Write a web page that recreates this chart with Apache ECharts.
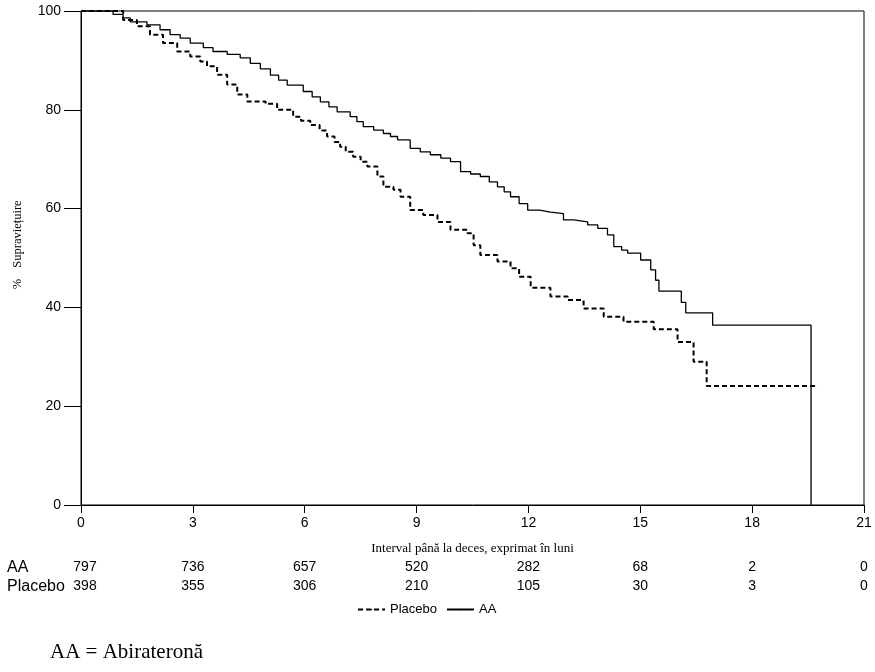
<!DOCTYPE html>
<html>
<head>
<meta charset="utf-8">
<script src="https://cdn.jsdelivr.net/npm/echarts@6/dist/echarts.min.js"></script>
<style>
  html, body { margin: 0; padding: 0; background: #fff; }
  #main { width: 875px; height: 672px; }
</style>
</head>
<body>
<div id="main"></div>
<script>
// luni / supraviețuire (%)
var aaTime = [0, 0.6, 0.86, 1.13, 1.32, 1.77, 2.12, 2.39, 2.66, 2.93, 3.28, 3.54, 3.92, 4.27, 4.54, 4.81, 5.08, 5.3, 5.53, 5.96, 6.2, 6.42, 6.65, 6.87, 7.22, 7.4, 7.57, 7.85, 8.11, 8.3, 8.49, 8.83, 9.1, 9.37, 9.65, 9.91, 10.18, 10.45, 10.71, 10.95, 11.17, 11.35, 11.52, 11.75, 11.98, 12.3, 12.59, 12.94, 13.21, 13.59, 13.86, 14.12, 14.29, 14.5, 14.66, 15.01, 15.28, 15.41, 15.5, 16.1, 16.22, 16.94, 19.58]
var aaSurv = [100, 100, 99.3, 98.6, 97.8, 97.2, 96.2, 95.2, 94.5, 93.5, 92.6, 91.8, 91.2, 90.5, 89.4, 88.3, 87.0, 86.0, 85.0, 83.7, 82.6, 81.6, 80.6, 79.6, 78.6, 77.6, 76.6, 75.9, 75.2, 74.6, 73.9, 72.2, 71.5, 70.9, 70.2, 69.5, 67.5, 67.0, 66.5, 65.4, 64.4, 63.4, 62.4, 61.0, 59.7, 59.3, 59.0, 57.7, 57.3, 56.7, 56.0, 54.7, 52.3, 51.6, 51.0, 49.6, 47.6, 45.5, 43.3, 41.0, 38.9, 36.4, 0]

var plTime = [0, 0.78, 1.13, 1.5, 1.85, 2.2, 2.58, 2.93, 3.2, 3.38, 3.65, 3.92, 4.19, 4.46, 4.95, 5.26, 5.69, 5.9, 6.15, 6.4, 6.6, 6.8, 6.95, 7.1, 7.3, 7.5, 7.68, 7.95, 8.11, 8.38, 8.57, 8.83, 9.18, 9.56, 9.91, 10.37, 10.53, 10.71, 11.17, 11.52, 11.75, 12.06, 12.59, 13.05, 13.48, 14.02, 14.55, 15.36, 16.0, 16.43, 16.78, 19.77]
var plSurv = [100, 100, 98.2, 96.9, 95.2, 93.5, 91.8, 90.8, 89.8, 88.8, 87.1, 85.1, 83.1, 81.7, 81.2, 80.0, 78.6, 77.8, 76.9, 75.8, 74.6, 73.5, 72.5, 71.5, 70.5, 69.5, 68.5, 66.5, 64.4, 63.8, 62.4, 59.7, 58.7, 57.3, 55.7, 55.0, 52.6, 50.6, 49.3, 47.9, 46.2, 44.0, 42.2, 41.5, 39.8, 38.1, 37.1, 35.6, 33.0, 29.0, 24.1, 24.1]

// număr de pacienți la risc
var riskTimes = [0, 3, 6, 9, 12, 15, 18, 21]
var riskAA = [797, 736, 657, 520, 282, 68, 2, 0]
var riskPlacebo = [398, 355, 306, 210, 105, 30, 3, 0]

function pairs (xs, ys) {
  return xs.map(function (x, i) { return [x, ys[i]] })
}

var myChart = echarts.init(document.getElementById('main'))
var sans = 'Liberation Sans, Arial, sans-serif'
var serif = 'Liberation Serif, Times New Roman, serif'

var option = {
  animation: false,
  backgroundColor: '#fff',
  grid: {
    left: 81, right: 11, top: 11, bottom: 167,
    show: true, borderColor: '#000', borderWidth: 1
  },
  legend: {
    bottom: 51,
    left: 352,
    itemWidth: 27,
    itemHeight: 2,
    itemGap: 9,
    textStyle: { fontFamily: sans, fontSize: 13, color: '#000' },
    data: ['Placebo', 'AA']
  },
  xAxis: {
    type: 'value',
    min: 0, max: 21, interval: 3,
    name: 'Interval până la deces, exprimat în luni',
    nameLocation: 'middle',
    nameGap: 37,
    nameTextStyle: { fontFamily: serif, fontSize: 13, color: '#000' },
    axisLine: { lineStyle: { color: '#000', width: 1 } },
    axisTick: { length: 8, lineStyle: { color: '#000' } },
    axisLabel: { fontFamily: sans, fontSize: 14, color: '#000', margin: 11 },
    splitLine: { show: false }
  },
  yAxis: {
    type: 'value',
    min: 0, max: 100, interval: 20,
    axisLine: { show: true, lineStyle: { color: '#000', width: 1 } },
    axisTick: { show: true, length: 17, lineStyle: { color: '#000' } },
    axisLabel: { fontFamily: sans, fontSize: 14, color: '#000', margin: 20 },
    splitLine: { show: false }
  },
  series: [
    {
      name: 'Placebo',
      type: 'line',
      step: 'end',
      symbol: 'none',
      lineStyle: { color: '#000', width: 2, type: [5, 3] },
      itemStyle: { color: '#000' },
      data: pairs(plTime, plSurv)
    },
    {
      name: 'AA',
      type: 'line',
      step: 'end',
      symbol: 'none',
      lineStyle: { color: '#000', width: 1.3 },
      itemStyle: { color: '#000' },
      data: pairs(aaTime, aaSurv)
    }
  ]
}

myChart.setOption(option)

// tabel cu pacienți la risc + etichete
var graphics = [
  {
    type: 'text', x: 18, y: 284, rotation: Math.PI / 2,
    style: { text: '%', font: '12.5px ' + serif, fill: '#000', textAlign: 'center', textVerticalAlign: 'middle' }
  },
  {
    type: 'text', x: 18, y: 234, rotation: Math.PI / 2,
    style: { text: 'Supraviețuire', font: '12.5px ' + serif, fill: '#000', textAlign: 'center', textVerticalAlign: 'middle' }
  },
  { type: 'text', x: 7, y: 568, style: { text: 'AA', font: '16px ' + sans, fill: '#000', textVerticalAlign: 'middle' } },
  { type: 'text', x: 7, y: 587, style: { text: 'Placebo', font: '16px ' + sans, fill: '#000', textVerticalAlign: 'middle' } },
  { type: 'text', x: 50, y: 652, style: { text: 'AA = Abirateronă', font: '21px ' + serif, fill: '#000', textVerticalAlign: 'middle' } }
]
riskTimes.forEach(function (t, i) {
  var px = myChart.convertToPixel({ xAxisIndex: 0 }, t) + (i === 0 ? 4 : 0)
  graphics.push({ type: 'text', x: px, y: 567, style: { text: String(riskAA[i]), font: '14px ' + sans, fill: '#000', textAlign: 'center', textVerticalAlign: 'middle' } })
  graphics.push({ type: 'text', x: px, y: 586, style: { text: String(riskPlacebo[i]), font: '14px ' + sans, fill: '#000', textAlign: 'center', textVerticalAlign: 'middle' } })
})
myChart.setOption({ graphic: graphics })
</script>
</body>
</html>
